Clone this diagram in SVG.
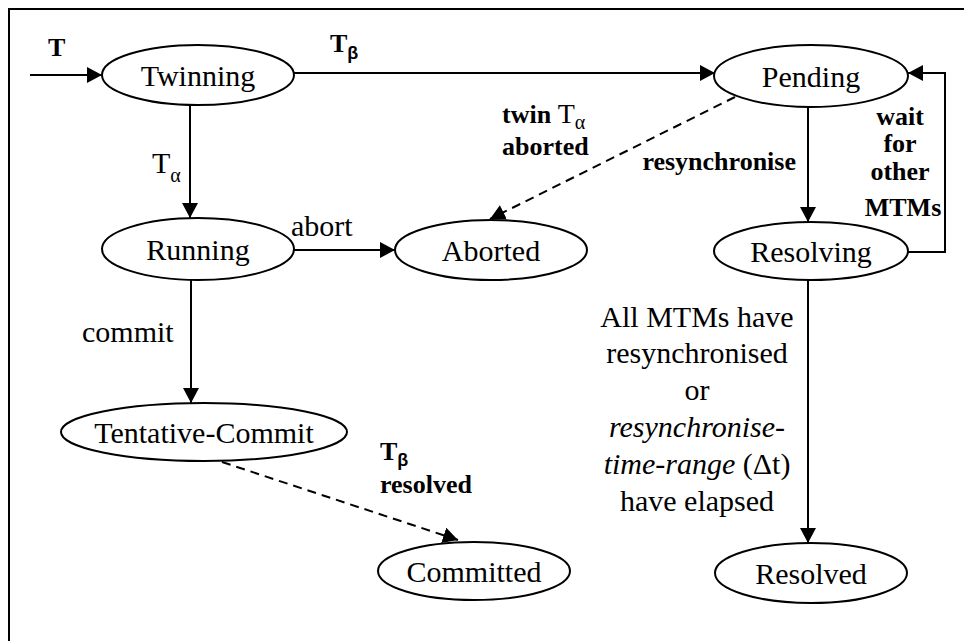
<svg xmlns="http://www.w3.org/2000/svg" width="964" height="641" viewBox="0 0 964 641">
  <style>
    .node ellipse { fill: #ffffff; stroke: #000000; stroke-width: 2; }
    .node text { font-size: 30px; text-anchor: middle; fill: #000000; }
    .edge { fill: none; stroke: #000000; stroke-width: 2; }
    .dash { stroke-dasharray: 9 6; }
    .lbl { font-size: 30px; fill: #000000; }
    .bold { font-weight: bold; font-size: 26px; }
    .sub { font-size: 20px; }
    .beta { font-weight: bold; font-size: 18px; }
  </style>
  <defs>
    <marker id="arrow" markerUnits="userSpaceOnUse" markerWidth="16" markerHeight="16" refX="15" refY="8" orient="auto">
      <path d="M0,0 L15,8 L0,16 z" fill="#000000"/>
    </marker>
  </defs>

  <rect width="964" height="641" fill="#ffffff"/>
  <!-- frame -->
  <polyline points="9,641 9,9 964,9" fill="none" stroke="#000000" stroke-width="2"/>

  <g id="connectors">
    <line class="edge" x1="30" y1="75" x2="102" y2="75" marker-end="url(#arrow)"/>
    <line class="edge" x1="294" y1="73" x2="715" y2="73" marker-end="url(#arrow)"/>
    <line class="edge" x1="190" y1="105" x2="190" y2="218" marker-end="url(#arrow)"/>
    <line class="edge" x1="294" y1="250" x2="395" y2="250" marker-end="url(#arrow)"/>
    <line class="edge" x1="191" y1="280" x2="191" y2="403" marker-end="url(#arrow)"/>
    <line class="edge" x1="808" y1="107" x2="808" y2="222" marker-end="url(#arrow)"/>
    <polyline class="edge" points="908,252 945,252 945,73 908,73" marker-end="url(#arrow)"/>
    <line class="edge" x1="808" y1="280" x2="808" y2="543" marker-end="url(#arrow)"/>
    <line class="edge dash" x1="735" y1="97" x2="490" y2="219" marker-end="url(#arrow)"/>
    <line class="edge dash" x1="222" y1="462" x2="458" y2="540" marker-end="url(#arrow)"/>
  </g>

  <g font-family="'Liberation Serif', 'Times New Roman', Tinos, 'DejaVu Serif', serif">
  <g id="labels">
    <text class="lbl bold" x="48" y="56" font-size="24">T</text>
    <text class="lbl bold" x="330" y="52">T<tspan class="beta" font-family="'Liberation Sans', Arial, sans-serif" dy="7">β</tspan></text>
    <text class="lbl" x="152" y="173">T<tspan class="sub" dy="9">α</tspan></text>
    <text class="lbl" x="291" y="236">abort</text>
    <text class="lbl" x="82" y="342">commit</text>
    <text class="lbl bold" x="502" y="123">twin <tspan font-weight="normal" font-size="28px">T</tspan><tspan font-weight="normal" class="sub" dy="6">α</tspan></text>
    <text class="lbl bold" x="502" y="155">aborted</text>
    <text class="lbl bold" x="796" y="170" text-anchor="end">resynchronise</text>
    <g class="lbl bold" text-anchor="middle">
      <text x="900" y="125">wait</text>
      <text x="900" y="152">for</text>
      <text x="900" y="180">other</text>
      <text x="903" y="216">MTMs</text>
    </g>
    <text class="lbl bold" x="380" y="460">T<tspan class="beta" font-family="'Liberation Sans', Arial, sans-serif" dy="6">β</tspan></text>
    <text class="lbl bold" x="380" y="493">resolved</text>
    <g class="lbl" text-anchor="middle">
      <text x="697" y="327">All MTMs have</text>
      <text x="697" y="363">resynchronised</text>
      <text x="697" y="400">or</text>
      <text x="697" y="437" font-style="italic">resynchronise-</text>
      <text x="697" y="474"><tspan font-style="italic">time-range</tspan> (Δt)</text>
      <text x="697" y="511">have elapsed</text>
    </g>
  </g>

  <g id="node-twinning" class="node">
    <ellipse cx="198" cy="75" rx="96" ry="30"/>
    <text x="198" y="86">Twinning</text>
  </g>
  <g id="node-pending" class="node">
    <ellipse cx="811" cy="76" rx="97" ry="31"/>
    <text x="811" y="87">Pending</text>
  </g>
  <g id="node-running" class="node">
    <ellipse cx="198" cy="249" rx="96" ry="31"/>
    <text x="198" y="260">Running</text>
  </g>
  <g id="node-aborted" class="node">
    <ellipse cx="491" cy="250" rx="96" ry="30"/>
    <text x="491" y="261">Aborted</text>
  </g>
  <g id="node-resolving" class="node">
    <ellipse cx="811" cy="251" rx="97" ry="29"/>
    <text x="811" y="262">Resolving</text>
  </g>
  <g id="node-tentative-commit" class="node">
    <ellipse cx="204" cy="432" rx="143" ry="29"/>
    <text x="204" y="443">Tentative-Commit</text>
  </g>
  <g id="node-committed" class="node">
    <ellipse cx="474" cy="571" rx="96" ry="29"/>
    <text x="474" y="582">Committed</text>
  </g>
  <g id="node-resolved" class="node">
    <ellipse cx="811" cy="573" rx="96" ry="30"/>
    <text x="811" y="584">Resolved</text>
  </g>
  </g>
</svg>
